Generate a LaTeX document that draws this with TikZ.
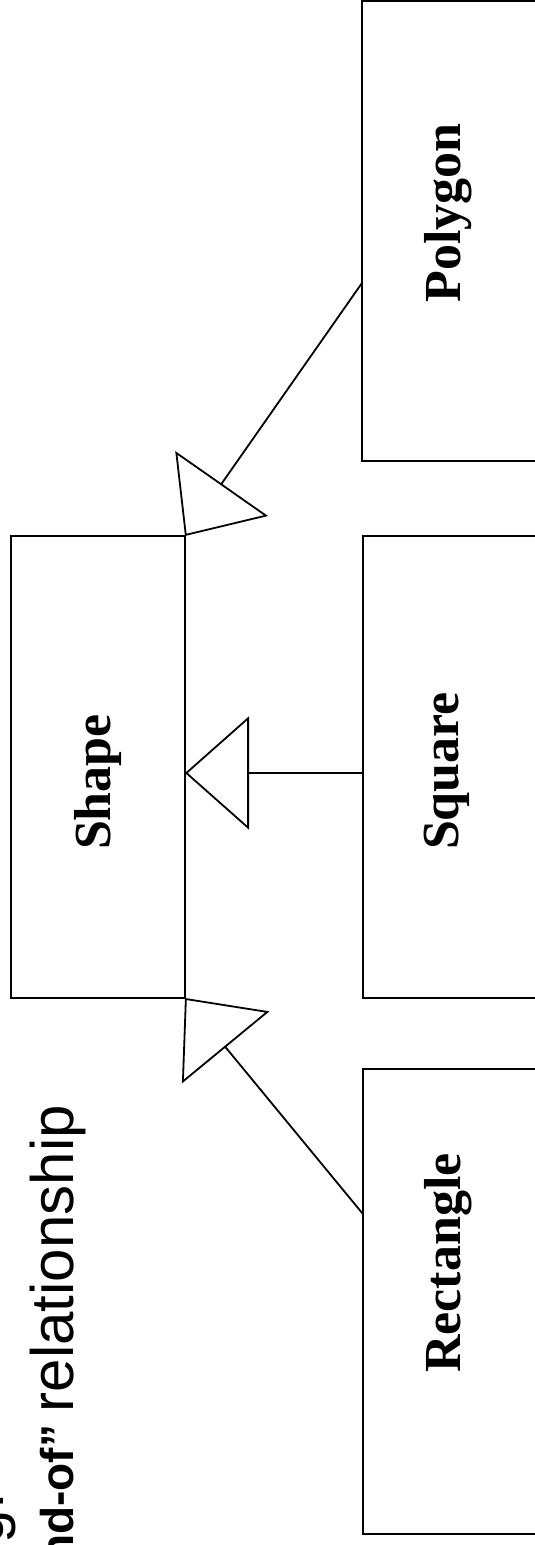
\documentclass[tikz,border=0pt]{standalone}
\usepackage{fontspec}
\setmainfont{Liberation Serif}
\setsansfont{Liberation Sans}
\usetikzlibrary{arrows.meta,calc}
\begin{document}
\begin{tikzpicture}[x=1pt,y=1pt,
  cls/.style={draw, line width=1.8pt, inner sep=0pt, outer sep=0pt, anchor=south west},
  lbl/.style={rotate=90, anchor=base, inner sep=0pt, font=\fontsize{52}{60}\selectfont\bfseries},
  note/.style={rotate=90, anchor=base east, inner sep=0pt, font=\sffamily\fontsize{60}{70}\selectfont},
  inh/.style={line width=1.8pt, -{Triangle[open, length=64pt, width=113pt]}}]
\useasboundingbox (0,0) rectangle (535,1545);
\clip (0,0) rectangle (535,1545);
% class boxes
\node[cls, minimum width=174pt, minimum height=462pt] (shape) at (11,547) {};
\node[cls, minimum width=185pt, minimum height=462pt] (sq) at (363,547) {};
\node[cls, minimum width=185pt, minimum height=460pt] (poly) at (362,1084) {};
\node[cls, minimum width=185pt, minimum height=465pt] (rect) at (363,11) {};
% labels
\node[lbl] (tshape) at (110,763) {Shape};
\node[lbl] (tsq) at (458,774) {Square};
\node[lbl] (tpoly) at (460,1332) {Polygon};
\node[lbl] (trect) at (460,282) {Rectangle};
% inheritance connectors
\draw[inh] ([yshift=-6pt]sq.west) -- ([yshift=-6pt]shape.east);
\draw[inh] ($(poly.north west)!0.613!(poly.south west)$) -- (shape.north east);
\draw[inh] ($(rect.north west)!0.312!(rect.south west)$) -- (shape.south east);
% cut-off note text
\node[note] (n1) at (4,52) {ng:};
\node[note] (n2) at (73,440) {{\fontsize{46}{54}\selectfont\bfseries “kind-of” }relationship};
\end{tikzpicture}
\end{document}
